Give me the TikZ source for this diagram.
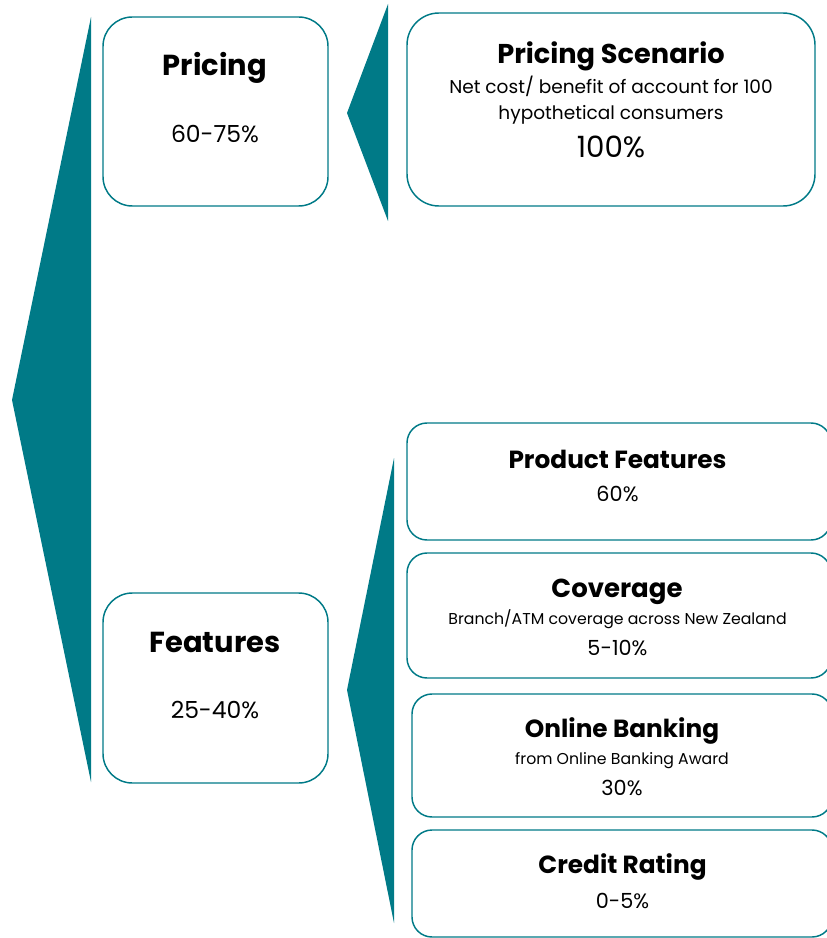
\documentclass[tikz,border=0pt]{standalone}
\usepackage{fontspec}
\setmainfont{Poppins}
\definecolor{wedgeteal}{RGB}{0,122,135}
\begin{document}
\begin{tikzpicture}[x=0.75pt, y=-0.75pt]
        \tikzset{box/.style={draw=wedgeteal, line width=1.1pt, rectangle, inner sep=0pt},
                 bigtitle/.style={anchor=base, font=\bfseries\fontsize{21.7}{25}\selectfont},
                 title/.style={anchor=base, font=\bfseries\fontsize{18.6}{22}\selectfont},
                 share/.style={anchor=base, font=\fontsize{15.6}{18}\selectfont},
                 note/.style={anchor=base, font=\fontsize{11.8}{14}\selectfont}}
        \useasboundingbox (0, 0) rectangle (826, 938);

        % wedges
        \fill[wedgeteal] (12, 400) -- (91, 17) -- (91, 782) -- cycle;
        \fill[wedgeteal] (347, 113) -- (388, 4) -- (388, 221) -- cycle;
        \fill[wedgeteal] (347, 690) -- (394, 458) -- (394, 923) -- cycle;

        % boxes
        \node[box, rounded corners=22pt, minimum width=168.75pt, minimum height=141.75pt] (pricing) at (215.5, 111.5) {};
        \node[box, rounded corners=24pt, minimum width=306pt, minimum height=144.75pt] (scenario) at (611, 109.5) {};
        \node[box, rounded corners=22pt, minimum width=168.75pt, minimum height=142.5pt] (features) at (215.5, 688) {};
        \node[box, rounded corners=15pt, minimum width=318pt, minimum height=87.75pt] (product) at (619, 481.5) {};
        \node[box, rounded corners=15pt, minimum width=318pt, minimum height=93.75pt] (coverage) at (619, 615.5) {};
        \node[box, rounded corners=15pt, minimum width=315pt, minimum height=92.25pt] (online) at (622, 755.5) {};
        \node[box, rounded corners=15pt, minimum width=315pt, minimum height=80.25pt] (credit) at (622, 883.5) {};

        % labels
        \node[bigtitle] (pricing-title) at (215, 76) {Pricing};
        \node[share, font=\fontsize{17.6}{20}\selectfont] (pricing-share) at (215, 143) {60-75\%};
        \node[title, font=\bfseries\fontsize{20.4}{24}\selectfont] (scenario-title) at (611, 64) {Pricing Scenario};
        \node[note, font=\fontsize{13.9}{16}\selectfont] (scenario-note1) at (611, 94) {Net cost/ benefit of account for 100};
        \node[note, font=\fontsize{13.9}{16}\selectfont] (scenario-note2) at (611, 120) {hypothetical consumers};
        \node[share, font=\fontsize{22}{25}\selectfont] (scenario-share) at (611, 157) {100\%};
        \node[bigtitle] (features-title) at (215, 652) {Features};
        \node[share, font=\fontsize{17.6}{20}\selectfont] (features-share) at (215, 718) {25-40\%};
        \node[title] (product-title) at (617.5, 468) {Product Features};
        \node[share] (product-share) at (617.5, 501) {60\%};
        \node[title, font=\bfseries\fontsize{19.5}{23}\selectfont] (coverage-title) at (617, 597) {Coverage};
        \node[note] (coverage-note) at (617.5, 624) {Branch/ATM coverage across New Zealand};
        \node[share] (coverage-share) at (617.5, 655) {5-10\%};
        \node[title] (online-title) at (622, 737) {Online Banking};
        \node[note] (online-note) at (622, 764) {from Online Banking Award};
        \node[share] (online-share) at (622, 795) {30\%};
        \node[title] (credit-title) at (622.5, 873) {Credit Rating};
        \node[share] (credit-share) at (622.5, 908) {0-5\%};
    \end{tikzpicture}
\end{document}
